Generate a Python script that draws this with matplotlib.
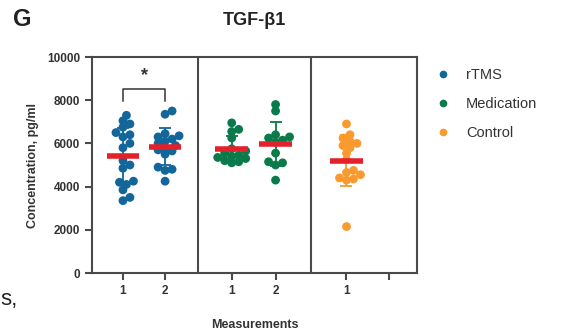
import numpy as np
import matplotlib
matplotlib.use("Agg")
import matplotlib.pyplot as plt
from matplotlib.lines import Line2D

plt.rcParams["font.family"] = ["Liberation Sans", "DejaVu Sans"]

# values (pg/ml)
rtms_1 = [7300, 7050, 6900, 6750, 6500, 6400, 6300, 6000, 5800, 5200,
          5000, 4850, 4250, 4200, 4100, 3850, 3500, 3350]
rtms_2 = [7500, 7350, 6450, 6350, 6300, 6200, 6100, 6000, 5900, 5800,
          5700, 5650, 5500, 4900, 4800, 4750, 4250]
med_1 = [6950, 6650, 6550, 6250, 5750, 5650, 5550, 5450, 5400, 5350,
         5300, 5200, 5150, 5100]
med_2 = [7800, 7500, 6400, 6300, 6250, 6150, 6050, 5550, 5150, 5100,
         5000, 4300]
control_1 = [6900, 6400, 6250, 6100, 6000, 5900, 5800, 5550, 5250, 4750,
             4650, 4550, 4400, 4350, 4300, 2150]

groups = ["rTMS", "Medication", "Control"]
colors = {"rTMS": "#12669a", "Medication": "#0b7a4b", "Control": "#f99a2f"}
series = [("rTMS", rtms_1), ("rTMS", rtms_2), ("Medication", med_1),
          ("Medication", med_2), ("Control", control_1)]
tick_labels = ["1", "2", "1", "2", "1", ""]

# layout along x (panel units, one unit ~ one measurement slot)
tick_pos = [0.72, 1.70, 3.25, 4.27, 5.92, 6.90]
dividers = [2.47, 5.10]
x_max = 7.56


def swarm(values, ax, min_dist=6.0, step=3.5):
    """deterministic swarm with overlap allowed, offsets in data units"""
    trans = ax.transData
    y_px = [trans.transform((0, v))[1] for v in values]
    px_per_unit = trans.transform((1, 0))[0] - trans.transform((0, 0))[0]
    placed = []
    offs = np.zeros(len(values))
    for i in np.argsort(y_px):
        y = y_px[i]
        cands = [0.0]
        for k in range(1, 15):
            cands += [k * step, -k * step]
        for c in cands:
            if all((px - c) ** 2 + (py - y) ** 2 >= min_dist ** 2 for px, py in placed):
                offs[i] = c
                placed.append((c, y))
                break
    return offs / px_per_unit


fig = plt.figure(figsize=(5.61, 3.33), dpi=100)
ax = fig.add_axes([92 / 561, 60 / 333, 325 / 561, 216 / 333])
ax.set_xlim(0, x_max)
ax.set_ylim(0, 10000)

edge = "#4a4a4a"
for s in ax.spines.values():
    s.set_color(edge)
    s.set_linewidth(1.5)
for d in dividers:
    ax.axvline(d, color=edge, lw=1.5)

for (grp, vals), x in zip(series, tick_pos):
    vals = np.array(vals, dtype=float)
    col = colors[grp]
    offs = swarm(vals, ax)
    ax.scatter(x + offs, vals, s=40, color=col, edgecolors="none", zorder=3)
    m = vals.mean()
    sd = vals.std(ddof=1)
    ax.errorbar(x, m, yerr=sd, color=col, lw=1.3, capsize=4, capthick=1.3, zorder=4)
    ax.plot([x - 0.38, x + 0.38], [m, m], color="#e3212b", lw=4, zorder=5,
            solid_capstyle="butt")

# significance bracket
ax.plot([tick_pos[0], tick_pos[0], tick_pos[1], tick_pos[1]],
        [7950, 8500, 8500, 7950], color="#333333", lw=1.1)
ax.text((tick_pos[0] + tick_pos[1]) / 2, 8750, "*", ha="center", va="bottom",
        fontsize=13, fontweight="bold", color="#333333")

ax.set_yticks(np.arange(0, 10001, 2000))
ax.set_xticks(tick_pos)
ax.set_xticklabels(tick_labels)
ax.tick_params(axis="both", colors=edge, width=1.5, length=5, labelsize=8.5,
               labelcolor="#333333")
for lbl in ax.get_xticklabels() + ax.get_yticklabels():
    lbl.set_fontweight("bold")

ax.set_ylabel("Concentration, pg/ml", fontsize=9, fontweight="bold", color="#333333",
              labelpad=6)
ax.set_xlabel("Measurements", fontsize=9, fontweight="bold", color="#333333",
              labelpad=16)
ax.set_title("TGF-\u03b21", fontsize=13, fontweight="bold", color="#222222", pad=23)

handles = [Line2D([], [], marker="o", ls="", color=colors[g], markersize=4.5)
           for g in groups]
leg = fig.legend(handles, groups, loc="upper left", bbox_to_anchor=(0.75, 0.836),
                 frameon=False, fontsize=10.5, handletextpad=1.0,
                 labelspacing=1.05, handlelength=1.2)
for t in leg.get_texts():
    t.set_color("#333333")

fig.text(0.04, 0.94, "G", fontsize=17, fontweight="bold", ha="center", va="center",
         color="#222222")
fig.text(0.0, 0.1, "s,", fontsize=16, ha="left", va="center", color="#222222",
         family=["Liberation Sans"])

fig.savefig("out.png", dpi=100)
